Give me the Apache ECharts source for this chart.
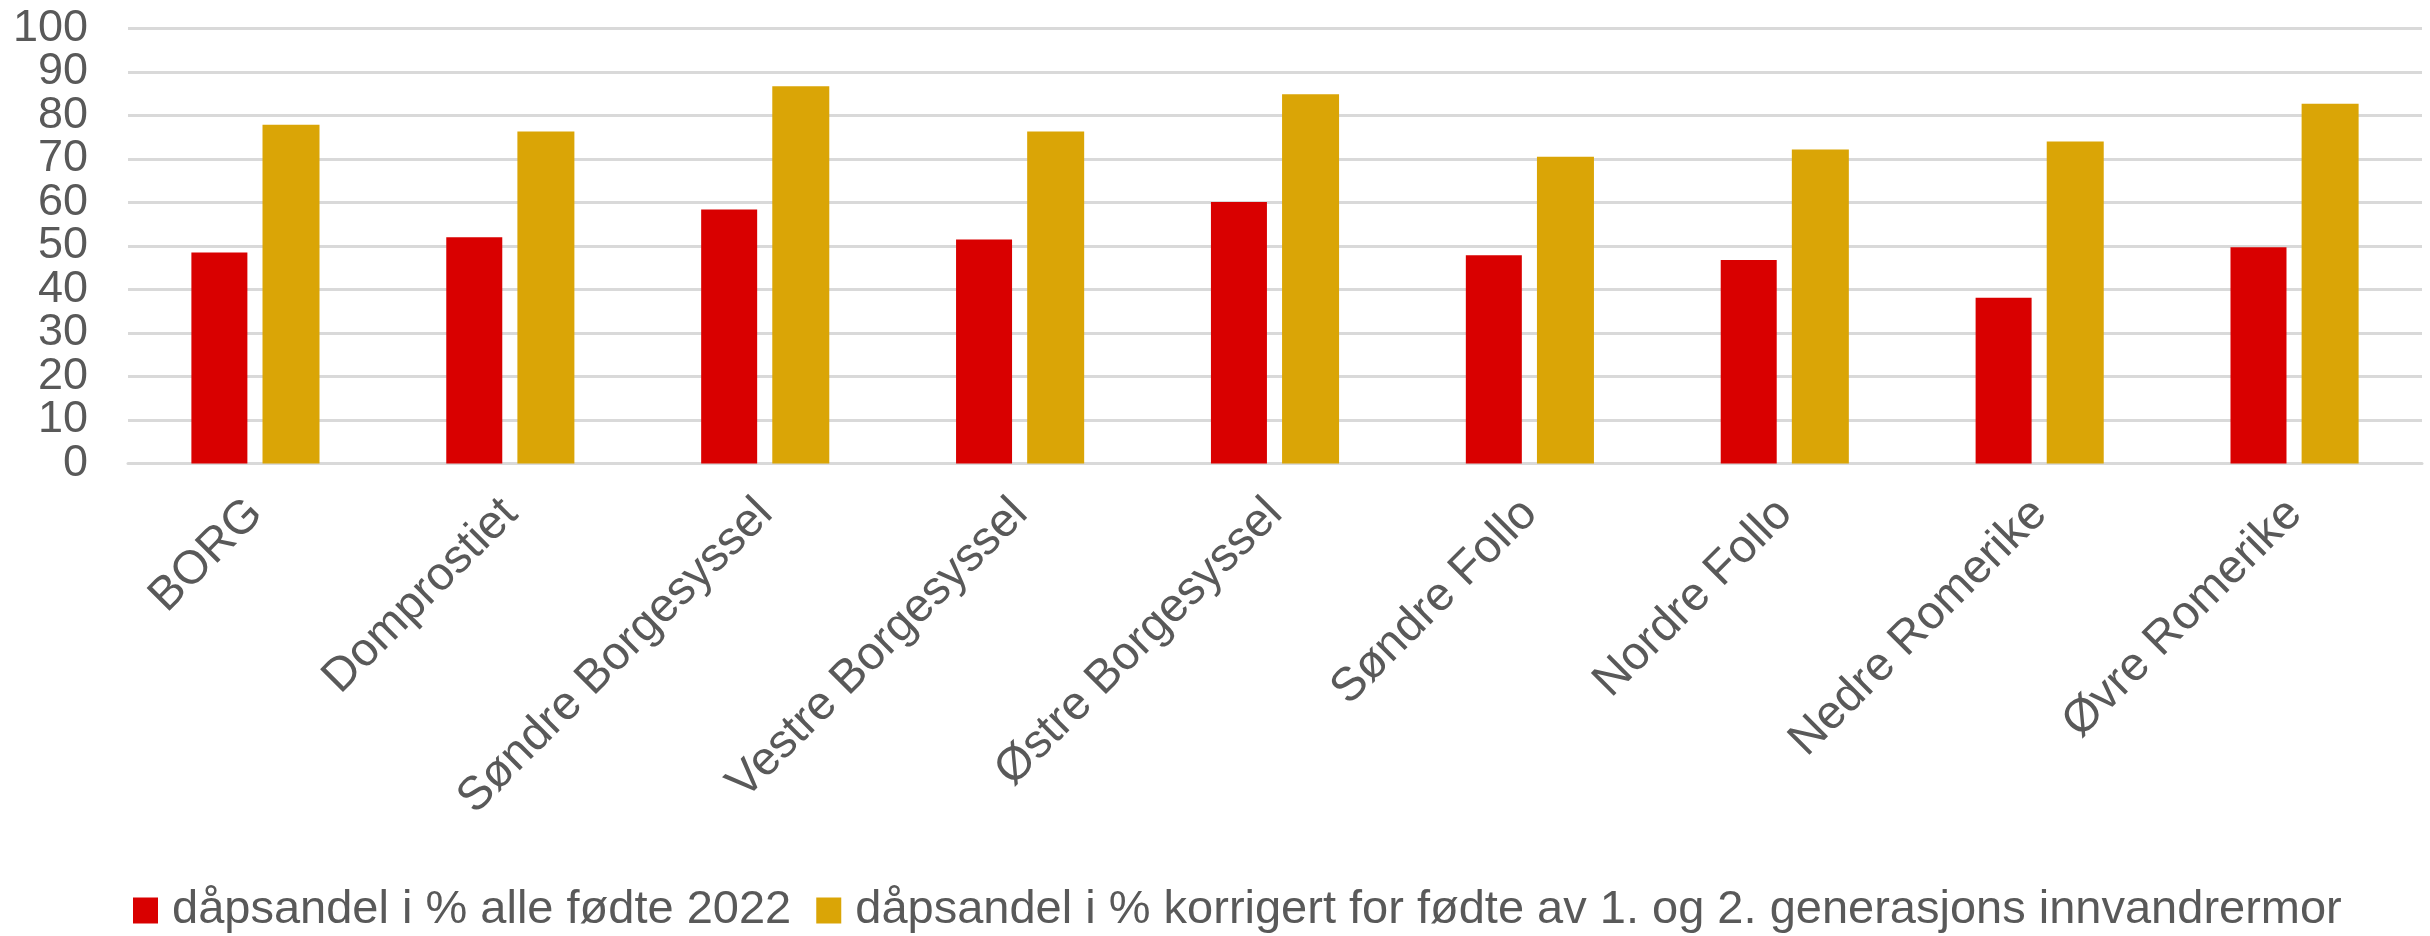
<!DOCTYPE html>
<html>
<head>
<meta charset="utf-8">
<script src="https://cdn.jsdelivr.net/npm/echarts@6/dist/echarts.min.js"></script>
<style>
html,body{margin:0;padding:0;background:#fff;}
#chart{width:2430px;height:936px;}
</style>
</head>
<body>
<div id="chart"></div>
<script>
const categories = ["BORG","Domprostiet","Søndre Borgesyssel","Vestre Borgesyssel","Østre Borgesyssel","Søndre Follo","Nordre Follo","Nedre Romerike","Øvre Romerike"];
const seriesNames = ["dåpsandel i % alle fødte 2022","dåpsandel i % korrigert for fødte av 1. og 2. generasjons innvandrermor"];
const allBorn = [48.5, 52.0, 58.4, 51.5, 60.1, 47.9, 46.8, 38.1, 49.7];
const corrected = [77.9, 76.3, 86.7, 76.3, 84.9, 70.5, 72.2, 74.0, 82.7];
const yTicks = {min: 0, max: 100, interval: 10};

const font = "'Liberation Sans', Arial, sans-serif";
const textColor = '#595959';
const isEnd = v => v === yTicks.min || v === yTicks.max;
const yLabelBase = {margin: 40, fontFamily: font, fontSize: 45, color: textColor, hideOverlap: false};
const chart = echarts.init(document.getElementById('chart'));
chart.setOption({
  animation: false,
  grid: {left: 128, right: 8, top: 28.5, bottom: 472.5, containLabel: false},
  legend: {
    left: 128, top: 882,
    itemWidth: 25, itemHeight: 26, itemGap: 25,
    icon: 'rect',
    textStyle: {fontFamily: font, fontSize: 47, color: textColor, padding: [0,0,0,9]},
    data: seriesNames
  },
  xAxis: {
    type: 'category', data: categories,
    axisLine: {show: true, lineStyle: {color: '#d9d9d9', width: 3}},
    axisTick: {show: false},
    axisLabel: {rotate: 45, interval: 0, margin: 43, padding: [20,0,0,0], fontFamily: font, fontSize: 47, color: textColor}
  },
  yAxis: [
    {
      type: 'value', position: 'left', min: yTicks.min, max: yTicks.max, interval: yTicks.interval,
      axisLine: {show: false}, axisTick: {show: false},
      splitLine: {lineStyle: {color: '#d9d9d9', width: 3}},
      axisLabel: Object.assign({}, yLabelBase, {showMinLabel: false, showMaxLabel: false,
        formatter: v => isEnd(v) ? '' : String(v)})
    },
    {
      type: 'value', position: 'left', offset: 0, min: yTicks.min, max: yTicks.max, interval: yTicks.interval,
      axisLine: {show: false}, axisTick: {show: false}, splitLine: {show: false},
      axisLabel: Object.assign({}, yLabelBase, {showMinLabel: true, showMaxLabel: true,
        formatter: v => isEnd(v) ? String(v) : ''})
    }
  ],
  series: [
    {name: seriesNames[0], type: 'bar', data: allBorn, barWidth: 56, barGap: '27%', itemStyle: {color: '#D90000'}},
    {name: seriesNames[1], type: 'bar', data: corrected, barWidth: 57, itemStyle: {color: '#DAA506'}}
  ]
});
</script>
</body>
</html>
